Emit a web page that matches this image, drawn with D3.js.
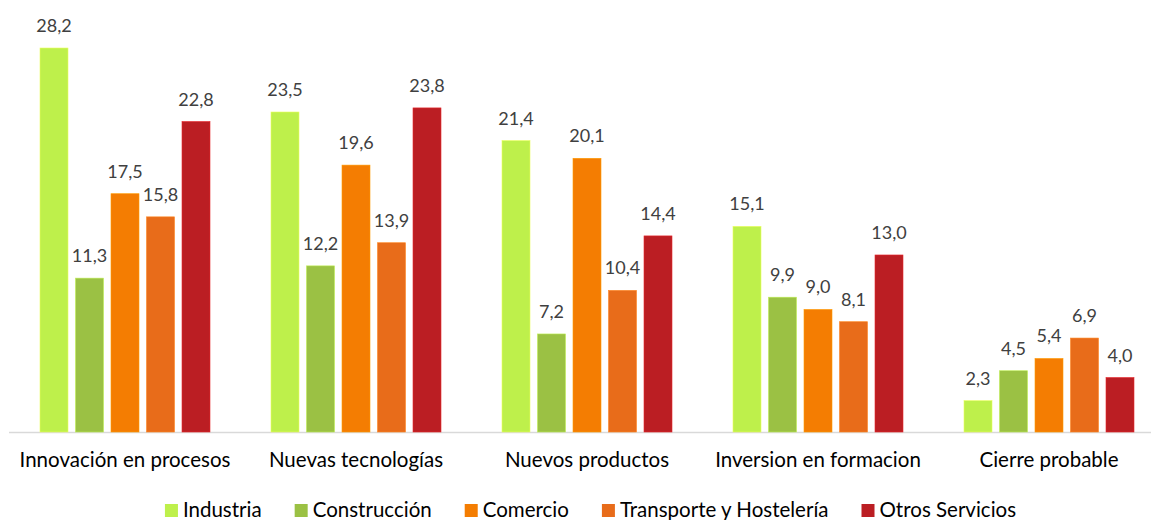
<!DOCTYPE html>
<html><head><meta charset="utf-8">
<script src="https://cdn.jsdelivr.net/npm/d3@7"></script>
<style>body{margin:0;background:#fff}svg{display:block}</style>
</head><body>
<svg id="c" width="1151" height="520"></svg>
<script>
const categories = ["Innovación en procesos","Nuevas tecnologías","Nuevos productos","Inversion en formacion","Cierre probable"];
const seriesNames = ["Industria","Construcción","Comercio","Transporte y Hostelería","Otros Servicios"];
const industria = [28.2,23.5,21.4,15.1,2.3];
const construccion = [11.3,12.2,7.2,9.9,4.5];
const comercio = [17.5,19.6,20.1,9.0,5.4];
const transporte = [15.8,13.9,10.4,8.1,6.9];
const otros = [22.8,23.8,14.4,13.0,4.0];
const colors = ["#BEF04B","#9BC144","#F47D02","#E86C1A","#BB1E23"];
const seriesValues = [industria,construccion,comercio,transporte,otros];

const svg = d3.select("#c");
const font = "Lato, 'Open Sans', sans-serif";
const baseY = 432;
const y = d3.scaleLinear().domain([0,28.2]).range([baseY,48]);
const x0 = d3.scaleBand().domain(categories).range([9.5,9.5+231*5]);
const x1 = d3.scaleBand().domain(seriesNames).range([30.5,200.5]).paddingInner(7.5/35.5);

svg.append("line").attr("x1",9).attr("x2",1151).attr("y1",baseY+0.5).attr("y2",baseY+0.5)
  .attr("stroke","#D9D9D9").attr("stroke-width",1.5);

const fmt = v => d3.format(".1f")(v).replace(".",",");

categories.forEach((c,ci)=>{
  const gg = svg.append("g").attr("transform",`translate(${x0(c)},0)`);
  seriesNames.forEach((s,si)=>{
    const v = seriesValues[si][ci];
    gg.append("rect").attr("x",x1(s)).attr("width",x1.bandwidth())
      .attr("y",y(v)).attr("height",baseY-y(v)).attr("fill",colors[si])
      .attr("stroke",d3.color(colors[si]).brighter(0.6)).attr("stroke-width",0.6);
    gg.append("text").attr("x",x1(s)+x1.bandwidth()/2).attr("y",y(v)-16)
      .attr("text-anchor","middle").attr("font-family",font).attr("font-size",18)
      .attr("fill","#404040").text(fmt(v));
  });
  gg.append("text").attr("x",x0.bandwidth()/2).attr("y",467)
    .attr("text-anchor","middle").attr("font-family",font).attr("font-size",20.5)
    .attr("fill","#000").text(c);
});

// legend
const leg = svg.append("g");
let cx = 0;
seriesNames.forEach((s,i)=>{
  const it = leg.append("g").attr("transform",`translate(${cx},0)`);
  it.append("rect").attr("x",0).attr("y",504).attr("width",13).attr("height",13).attr("fill",colors[i]);
  const t = it.append("text").attr("x",18).attr("y",517).attr("font-family",font).attr("font-size",20.5)
    .attr("fill","#000").text(s);
  cx += 18 + t.node().getComputedTextLength() + 33;
});
const total = cx - 33;
leg.attr("transform",`translate(${590.5-total/2},0)`);
</script>
</body></html>
